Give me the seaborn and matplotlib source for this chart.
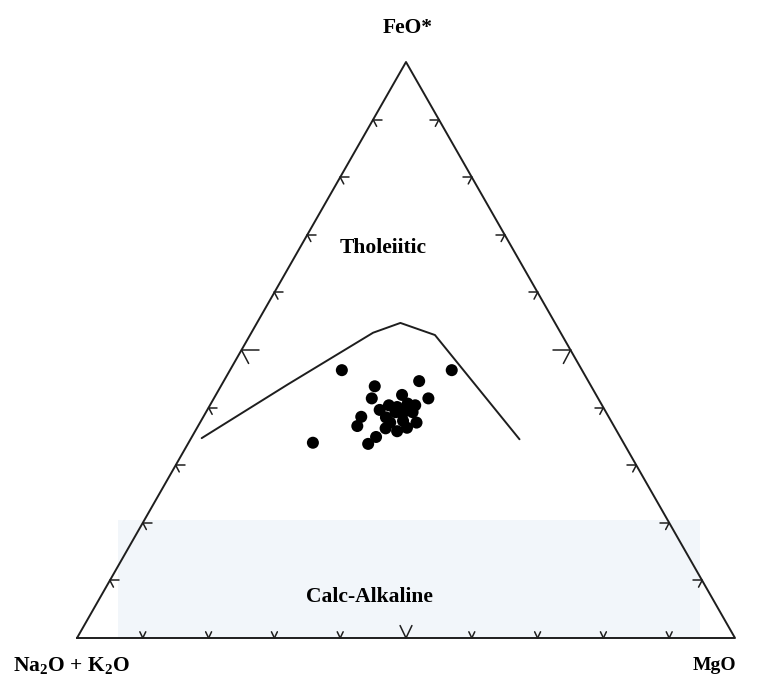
import numpy as np
import pandas as pd
import matplotlib
matplotlib.use("Agg")
import matplotlib.pyplot as plt
import seaborn as sns

# ---- data (ternary proportions: A = Na2O+K2O, F = FeO*, M = MgO) ----
sample_F = [0.465, 0.465, 0.446, 0.437, 0.416, 0.416, 0.422, 0.396, 0.404, 0.401,
            0.407, 0.404, 0.392, 0.389, 0.383, 0.392, 0.394, 0.384, 0.368, 0.364,
            0.359, 0.374, 0.365, 0.349, 0.337, 0.339, 0.374, 0.377]
sample_M = [0.170, 0.337, 0.297, 0.234, 0.240, 0.326, 0.283, 0.262, 0.272, 0.286,
            0.299, 0.312, 0.314, 0.300, 0.278, 0.288, 0.299, 0.240, 0.242, 0.287,
            0.307, 0.329, 0.319, 0.280, 0.274, 0.189, 0.289, 0.307]
boundary_F = [0.347, 0.440, 0.530, 0.547, 0.526, 0.345]
boundary_M = [0.016, 0.100, 0.185, 0.218, 0.281, 0.500]
tick_fracs = [0.1, 0.2, 0.3, 0.4, 0.5, 0.6, 0.7, 0.8, 0.9]
vertex_labels = ["FeO*", "Na$_\\mathregular{2}$O + K$_\\mathregular{2}$O", "MgO"]
field_labels = ["Tholeiitic", "Calc-Alkaline"]

sns.set_theme(style="white")
plt.rcParams['font.family'] = ['Liberation Serif', 'DejaVu Serif']
plt.rcParams['mathtext.fontset'] = 'custom'
plt.rcParams['mathtext.rm'] = 'Liberation Serif:bold'
plt.rcParams['text.color'] = 'black'

def to_xy(F, M):
    F = np.asarray(F, float); M = np.asarray(M, float)
    return M + F / 2.0, F

fig = plt.figure(figsize=(7.6, 6.84), dpi=100)
ax = fig.add_axes([0, 0, 1, 1])

# faint background band (watermark area of the reference)
ax.fill_between([(118 - 77) / 658, (700 - 77) / 658], 0, (638 - 520) / 576,
                color="#f2f6fa", zorder=0, lw=0)

edge = "#1e1e1e"
# triangle
tx, ty = to_xy([0, 1, 0, 0], [0, 0, 1, 0])
ax.plot(tx, ty, color=edge, lw=1.4, zorder=2)

# chevron ticks
def chevron(px, py, arms, size):
    for dx, dy in arms:
        ax.plot([px, px + dx * size], [py, py + dy * size], color=edge, lw=1.1, zorder=2)

for t in tick_fracs:
    big = abs(t - 0.5) < 1e-9
    s = 0.018 if big else 0.009
    bx, by = to_xy(0, t)
    chevron(bx, by, [(-0.5, 1.2), (0.5, 1.2)], s)
    lx, ly = to_xy(t, 0)
    chevron(lx, ly, [(1.5, 0), (0.6, -1.3)], s)
    rx, ry = to_xy(t, 1 - t)
    chevron(rx, ry, [(-1.5, 0), (-0.6, -1.3)], s)

# boundary line
bx, by = to_xy(boundary_F, boundary_M)
bdf = pd.DataFrame({"x": bx, "y": by})
sns.lineplot(data=bdf, x="x", y="y", sort=False, color=edge, lw=1.4, ax=ax,
             estimator=None, zorder=3)

# samples
sx, sy = to_xy(sample_F, sample_M)
sdf = pd.DataFrame({"x": sx, "y": sy})
sns.scatterplot(data=sdf, x="x", y="y", color="black", s=75, edgecolor="none",
                ax=ax, zorder=4)
ax.set_xlim(-77 / 658, (760 - 77) / 658)
ax.set_ylim(-46 / 576, 638 / 576)
ax.axis("off")

# labels
ax.text((408 - 77) / 658, (638 - 28) / 576, vertex_labels[0], ha="center", va="center",
        fontsize=15.5, fontweight="bold", color="black")
ax.text((72 - 77) / 658, (638 - 666) / 576, vertex_labels[1], ha="center", va="center",
        fontsize=15.5, fontweight="bold", color="black")
ax.text((714 - 77) / 658, (638 - 666) / 576, vertex_labels[2], ha="center", va="center",
        fontsize=14, fontweight="bold", color="black")
ax.text((383 - 77) / 658, (638 - 248) / 576, field_labels[0], ha="center", va="center",
        fontsize=15.5, fontweight="bold", color="black")
ax.text((369 - 77) / 658, (638 - 597) / 576, field_labels[1], ha="center", va="center",
        fontsize=15.5, fontweight="bold", color="black")

fig.savefig("out.png", dpi=100)
